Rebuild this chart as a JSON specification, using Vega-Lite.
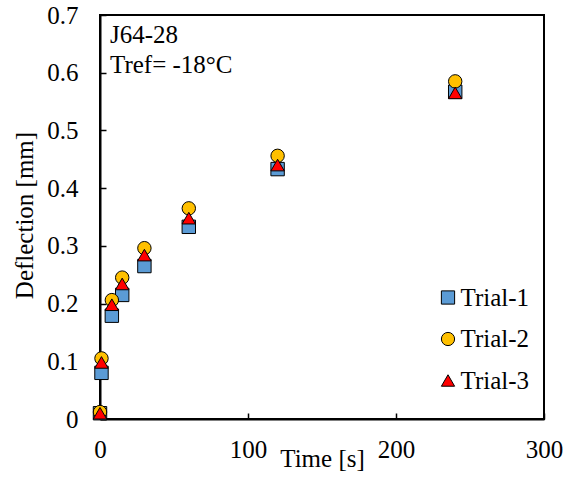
{
  "$schema": "https://vega.github.io/schema/vega-lite/v6.json",
  "width": 444,
  "height": 404,
  "autosize": {"type": "none"},
  "padding": {"left": 100, "top": 15, "right": 27, "bottom": 60},
  "background": "white",
  "config": {
    "font": "Liberation Serif",
    "view": {"stroke": "black", "strokeWidth": 2},
    "axis": {
      "grid": false,
      "domainColor": "black",
      "domainWidth": 2,
      "tickColor": "black",
      "tickWidth": 1.5,
      "tickSize": -6,
      "labelFlush": false,
      "labelFont": "Liberation Serif",
      "labelFontSize": 25,
      "labelColor": "black",
      "titleFont": "Liberation Serif",
      "titleFontSize": 25,
      "titleFontWeight": "normal",
      "titleColor": "black"
    }
  },
  "layer": [
    {
      "data": {
        "values": [
          {"time": 0, "trial": "Trial-1", "d": 0.01},
          {"time": 1, "trial": "Trial-1", "d": 0.08},
          {"time": 8, "trial": "Trial-1", "d": 0.179},
          {"time": 15, "trial": "Trial-1", "d": 0.215},
          {"time": 30, "trial": "Trial-1", "d": 0.265},
          {"time": 60, "trial": "Trial-1", "d": 0.333},
          {"time": 120, "trial": "Trial-1", "d": 0.433},
          {"time": 240, "trial": "Trial-1", "d": 0.567},
          {"time": 0, "trial": "Trial-2", "d": 0.012},
          {"time": 1, "trial": "Trial-2", "d": 0.105},
          {"time": 8, "trial": "Trial-2", "d": 0.206},
          {"time": 15, "trial": "Trial-2", "d": 0.245},
          {"time": 30, "trial": "Trial-2", "d": 0.296},
          {"time": 60, "trial": "Trial-2", "d": 0.365},
          {"time": 120, "trial": "Trial-2", "d": 0.456},
          {"time": 240, "trial": "Trial-2", "d": 0.585},
          {"time": 0, "trial": "Trial-3", "d": 0.01},
          {"time": 1, "trial": "Trial-3", "d": 0.098},
          {"time": 8, "trial": "Trial-3", "d": 0.198},
          {"time": 15, "trial": "Trial-3", "d": 0.234},
          {"time": 30, "trial": "Trial-3", "d": 0.284},
          {"time": 60, "trial": "Trial-3", "d": 0.348},
          {"time": 120, "trial": "Trial-3", "d": 0.44},
          {"time": 240, "trial": "Trial-3", "d": 0.565}
        ]
      },
      "mark": {"type": "point", "filled": true, "size": 180, "stroke": "black", "strokeWidth": 1, "opacity": 1},
      "encoding": {
        "x": {
          "field": "time",
          "type": "quantitative",
          "scale": {"domain": [0, 300], "nice": false},
          "axis": {
            "title": "Time [s]",
            "values": [0, 100, 200, 300],
            "labelBaseline": "alphabetic",
            "labelPadding": 44,
            "titleY": 47,
            "titleBaseline": "alphabetic"
          }
        },
        "y": {
          "field": "d",
          "type": "quantitative",
          "scale": {"domain": [0, 0.7], "nice": false},
          "axis": {
            "title": "Deflection [mm]",
            "values": [0, 0.1, 0.2, 0.3, 0.4, 0.5, 0.6, 0.7],
            "labelExpr": "datum.value == 0 ? '0' : format(datum.value, '.1f')",
            "labelPadding": 28,
            "titleX": -68,
            "titleY": 200,
            "titleBaseline": "alphabetic"
          }
        },
        "color": {
          "field": "trial",
          "type": "nominal",
          "scale": {"domain": ["Trial-1", "Trial-2", "Trial-3"], "range": ["#5B9BD5", "#FFC000", "#FF0000"]},
          "legend": {
            "title": null,
            "orient": "none",
            "legendX": 335.5,
            "legendY": 270,
            "labelFontSize": 25,
            "labelFont": "Liberation Serif",
            "labelColor": "black",
            "symbolSize": 175,
            "symbolStrokeColor": "black",
            "symbolStrokeWidth": 1,
            "rowPadding": 15.5,
            "labelOffset": 0
          }
        },
        "shape": {
          "field": "trial",
          "type": "nominal",
          "scale": {"domain": ["Trial-1", "Trial-2", "Trial-3"], "range": ["square", "circle", "triangle-up"]}
        }
      }
    },
    {
      "data": {
        "values": [
          {"time": 6.75, "d": 0.651, "label": "J64-28"},
          {"time": 6.75, "d": 0.599, "label": "Tref= -18°C"}
        ]
      },
      "mark": {"type": "text", "align": "left", "baseline": "alphabetic", "fontSize": 25, "font": "Liberation Serif", "color": "black"},
      "encoding": {
        "x": {"field": "time", "type": "quantitative"},
        "y": {"field": "d", "type": "quantitative"},
        "text": {"field": "label"}
      }
    }
  ]
}
